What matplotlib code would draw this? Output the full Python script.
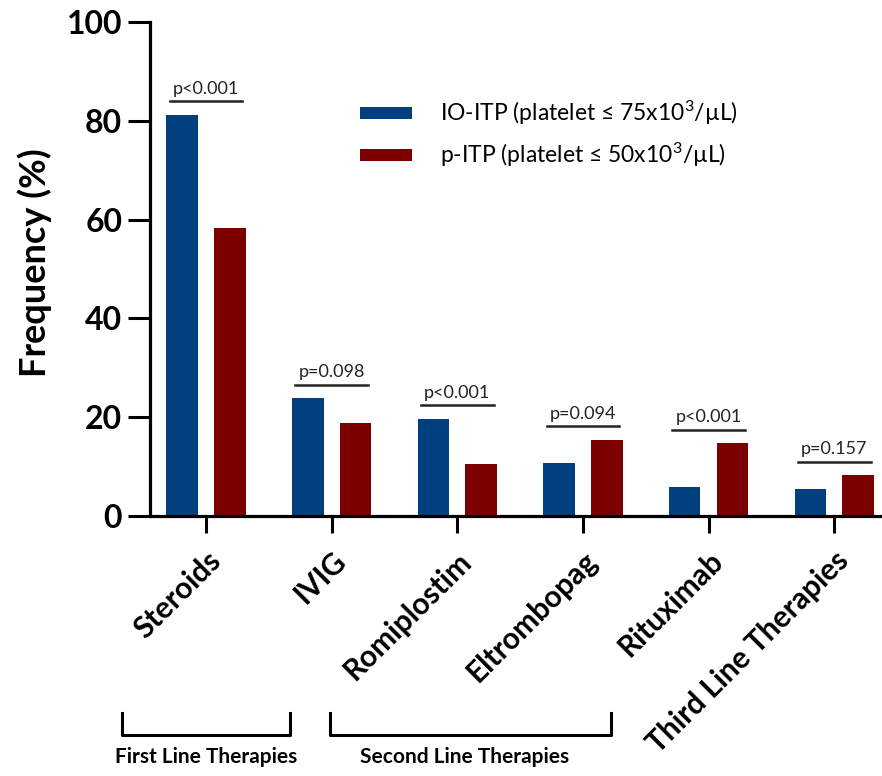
import matplotlib
matplotlib.use("Agg")
import matplotlib.pyplot as plt
import matplotlib.transforms as mtransforms
from matplotlib.lines import Line2D
import numpy as np

plt.rcParams['font.family'] = ['Lato', 'DejaVu Sans']
plt.rcParams['mathtext.default'] = 'regular'

categories = ["Steroids", "IVIG", "Romiplostim", "Eltrombopag", "Rituximab", "Third Line Therapies"]
io_itp = [81.2, 23.8, 19.6, 10.7, 5.9, 5.5]
p_itp = [58.4, 18.9, 10.5, 15.4, 14.7, 8.2]
p_values = ["p<0.001", "p=0.098", "p<0.001", "p=0.094", "p<0.001", "p=0.157"]
series_labels = ["IO-ITP (platelet \u2264 75x10$^3$/\u00b5L)", "p-ITP (platelet \u2264 50x10$^3$/\u00b5L)"]
group_labels = ["First Line Therapies", "Second Line Therapies"]
yticks = [0, 20, 40, 60, 80, 100]

blue = "#023f7f"
red = "#7d0000"

fig = plt.figure(figsize=(8.82, 7.76), dpi=100)
ax = fig.add_axes([150/882, (776-516)/776, (882-150)/882, 494/776])

x = np.arange(len(categories))
w = 0.25
off = 0.19
b1 = ax.bar(x - off, io_itp, w, color=blue, label=series_labels[0])
b2 = ax.bar(x + off, p_itp, w, color=red, label=series_labels[1])

ax.set_xlim(-0.446, 5.38)
ax.set_ylim(0, 100)
ax.set_yticks(yticks)
ax.set_yticklabels([str(t) for t in yticks], fontsize=23, fontweight='bold')
ax.set_xticks(x)
ax.set_xticklabels(categories, rotation=45, ha='right', rotation_mode='anchor',
                   fontsize=21.5, fontweight='bold')
ax.tick_params(axis='y', length=16, width=2.2, pad=4)
ax.tick_params(axis='x', length=12, width=2.2, pad=10)
for s in ['top', 'right']:
    ax.spines[s].set_visible(False)
for s in ['left', 'bottom']:
    ax.spines[s].set_linewidth(2.3)
ax.set_ylabel("Frequency (%)", fontsize=26, fontweight='bold')
ax.yaxis.set_label_coords(-(150 - 52) / 732, (516 - 263) / 494)

# p-value brackets
for i, (a, b, p) in enumerate(zip(io_itp, p_itp, p_values)):
    yl = max(a, b) + 2.8
    ax.plot([i - 0.29, i + 0.29], [yl, yl], color='#222222', lw=1.8, clip_on=False)
    ax.text(i, yl + 0.9, p, ha='center', va='bottom', fontsize=13, color='#222222')

# legend
leg = ax.legend(loc='upper left', bbox_to_anchor=(339/882, 1 - 78/776),
                bbox_transform=fig.transFigure, frameon=False, fontsize=16.5,
                handlelength=2.3, handleheight=0.45, handletextpad=1.2,
                labelspacing=0.6)

# group brackets
trans = mtransforms.blended_transform_factory(ax.transData, fig.transFigure)
y_top = 1 - 713/776
y_bot = 1 - 735/776
for (x0, x1) in [(-0.67, 0.67), (0.99, 3.22)]:
    fig.add_artist(Line2D([x0, x0, x1, x1], [y_top, y_bot, y_bot, y_top],
                          transform=trans, color='black', lw=2.2))
fig.text(0.0, 1 - 757/776, group_labels[0], transform=trans, ha='center', va='center',
         fontsize=15, fontweight='bold')
fig.text(2.06, 1 - 757/776, group_labels[1], transform=trans, ha='center', va='center',
         fontsize=15, fontweight='bold')

fig.savefig("out.png", dpi=100)
